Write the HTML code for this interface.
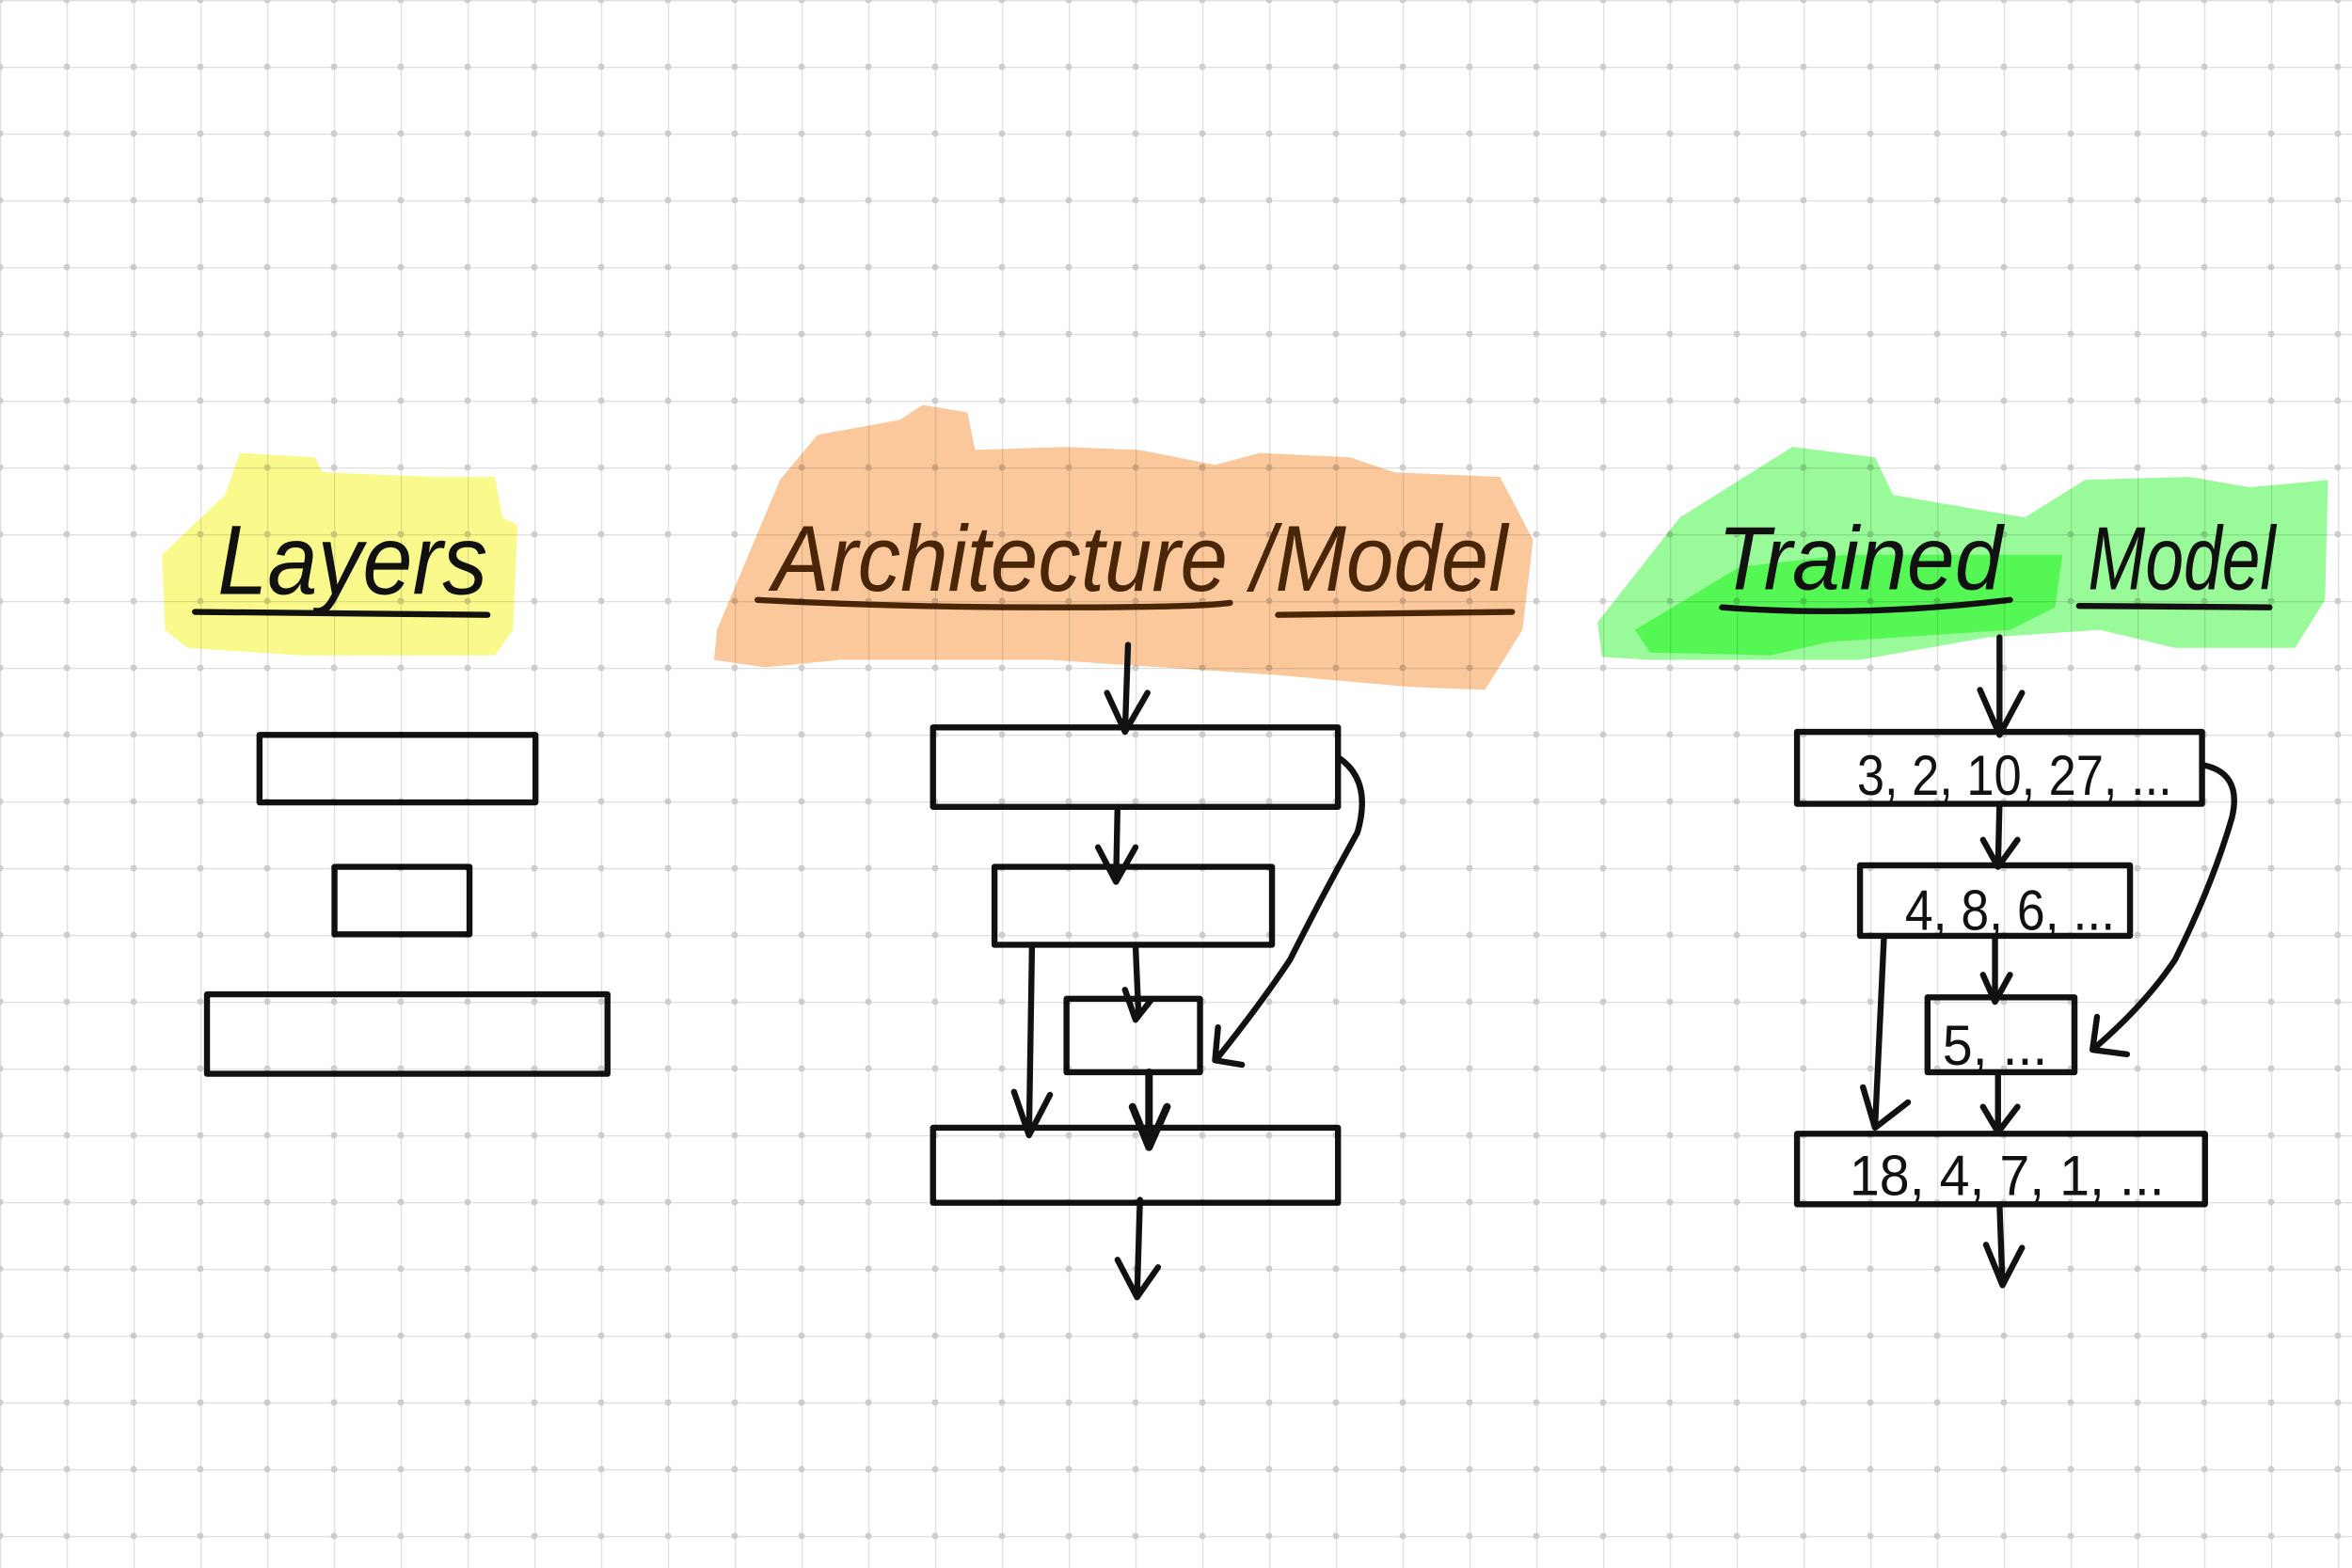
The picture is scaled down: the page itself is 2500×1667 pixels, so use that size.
<!DOCTYPE html>
<html><head><meta charset="utf-8"><style>
html,body{margin:0;padding:0;background:#fff;}
svg{display:block;}
</style></head><body>
<svg width="2500" height="1667" viewBox="0 0 2500 1667" xmlns="http://www.w3.org/2000/svg">
<defs>
<pattern id="g" width="71" height="71" patternUnits="userSpaceOnUse">
<path d="M0 0H71M0 0V71" stroke="#dcdcdc" stroke-width="2.5" fill="none"/>
<circle cx="0" cy="0" r="3.5" fill="#c8c8c8"/><circle cx="71" cy="0" r="3.5" fill="#c8c8c8"/><circle cx="0" cy="71" r="3.5" fill="#c8c8c8"/><circle cx="71" cy="71" r="3.5" fill="#c8c8c8"/>
</pattern>
</defs>
<rect width="2500" height="1667" fill="#fff"/>
<g transform="scale(1.5944)">
<!-- highlights -->
<polygon points="108,370 150,330 160,302 210,305 215,315 290,318 330,318 335,345 345,350 342,420 330,437 200,437 125,432 110,420" fill="#fafa8c"/>
<polygon points="478,420 520,320 545,290 600,280 615,270 645,275 650,300 710,298 760,300 810,310 840,302 900,305 930,315 1000,318 1022,360 1015,420 990,460 940,458 850,450 700,440 560,440 510,445 476,440" fill="#fbc89c"/>
<polygon points="1065,415 1120,345 1195,298 1250,305 1262,330 1320,340 1350,345 1390,320 1460,318 1500,325 1552,320 1550,400 1530,432 1450,432 1400,420 1325,425 1240,440 1100,440 1068,438" fill="#99fa99"/>
<polygon points="1090,420 1160,378 1230,370 1280,370 1375,370 1370,405 1340,420 1220,428 1180,437 1100,435" fill="#55f755"/>
<!-- text -->
<g font-family="Liberation Sans, sans-serif" fill="#111" font-style="italic">
<text x="145" y="396" font-size="66" textLength="180" lengthAdjust="spacingAndGlyphs">Layers</text>
<text x="515" y="394" font-size="62" textLength="490" lengthAdjust="spacingAndGlyphs" fill="#4a2608">Architecture /Model</text>
<text x="1145" y="393" font-size="60" textLength="190" lengthAdjust="spacingAndGlyphs">Trained</text>
<text x="1392" y="393" font-size="60" textLength="125" lengthAdjust="spacingAndGlyphs">Model</text>
<g font-size="38" font-style="normal">
<text x="1238" y="530" textLength="210" lengthAdjust="spacingAndGlyphs">3, 2, 10, 27, ...</text>
<text x="1270" y="620" textLength="140" lengthAdjust="spacingAndGlyphs">4, 8, 6, ...</text>
<text x="1295" y="710" textLength="70" lengthAdjust="spacingAndGlyphs">5, ...</text>
<text x="1233" y="797" textLength="210" lengthAdjust="spacingAndGlyphs">18, 4, 7, 1, ...</text>
</g>
</g>
<g fill="none" stroke="#111" stroke-width="4" stroke-linecap="round" stroke-linejoin="round">
<!-- underlines -->
<path d="M130 408 L325 410"/>
<path d="M505 400 Q600 405 700 405 T820 402" stroke="#4a2608"/>
<path d="M852 410 L1008 408" stroke="#4a2608"/>
<path d="M1148 405 Q1240 412 1340 400"/>
<path d="M1386 404 L1513 405"/>
<!-- layer boxes -->
<rect x="173" y="490" width="184" height="45"/>
<rect x="223" y="578" width="90" height="45"/>
<rect x="138" y="663" width="267" height="53"/>
<!-- architecture -->
<rect x="622" y="485" width="270" height="53"/>
<rect x="663" y="578" width="185" height="52"/>
<rect x="711" y="666" width="89" height="49"/>
<rect x="622" y="752" width="270" height="50"/>
<path d="M752 430 L750 488 M738 462 L750 488 L765 462"/>
<path d="M745 538 L744 588 M732 565 L744 588 L757 565"/>
<path d="M757 630 L759 676 M750 660 L757 680 L768 666"/>
<path d="M688 630 L686 757 M676 728 L686 757 L700 730"/>
<path d="M766 715 L766 765 M755 738 L766 765 L778 738" stroke-width="5"/>
<path d="M760 800 L758 865 M745 840 L758 865 L772 845"/>
<path d="M892 505 Q915 520 905 555 Q880 600 860 640 Q840 670 812 705 M812 685 L810 707 L828 710"/>
<!-- trained -->
<rect x="1198" y="488" width="270" height="48"/>
<rect x="1240" y="577" width="180" height="47"/>
<rect x="1285" y="665" width="98" height="50"/>
<rect x="1198" y="756" width="272" height="47"/>
<path d="M1333 425 L1333 490 M1320 460 L1333 490 L1348 462"/>
<path d="M1333 536 L1332 578 M1322 560 L1332 578 L1345 560"/>
<path d="M1330 624 L1330 668 M1322 650 L1330 668 L1340 650"/>
<path d="M1256 624 L1250 752 M1242 725 L1250 752 L1272 735"/>
<path d="M1332 715 L1332 755 M1322 738 L1332 755 L1345 738"/>
<path d="M1333 803 L1335 857 M1324 830 L1335 857 L1348 832"/>
<path d="M1468 510 Q1495 515 1488 545 Q1475 590 1450 640 Q1430 670 1395 700 M1398 678 L1395 700 L1418 703"/>
</g>
</g>
<rect width="2500" height="1667" fill="url(#g)" opacity="0.9" style="mix-blend-mode:multiply"/>
</svg>
</body></html>
